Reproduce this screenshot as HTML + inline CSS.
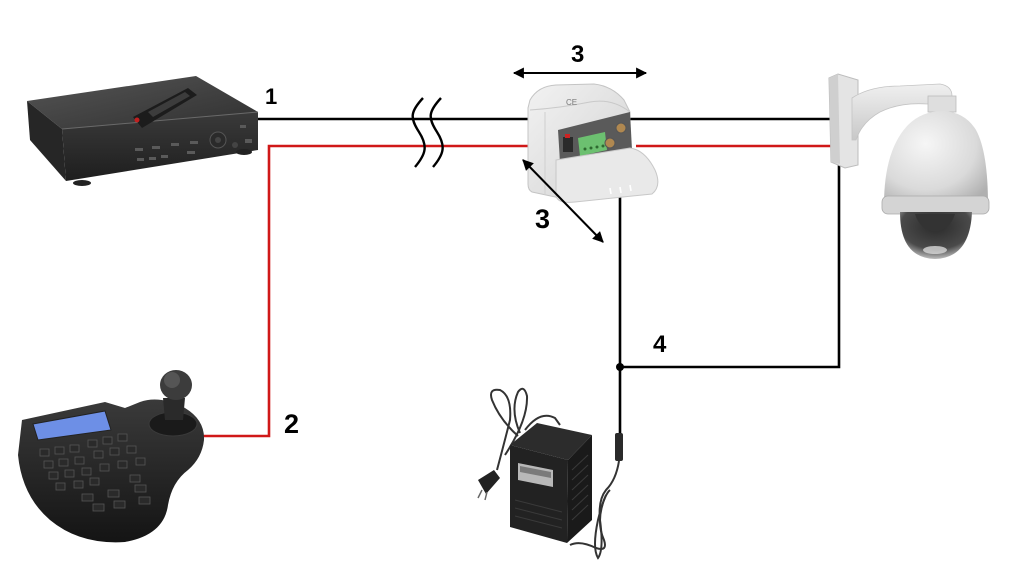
<!DOCTYPE html>
<html>
<head>
<meta charset="utf-8">
<style>
html,body{margin:0;padding:0;background:#fff;}
svg{display:block;}
text{font-family:"Liberation Sans",Arial,sans-serif;font-weight:bold;fill:#000;}
</style>
</head>
<body>
<svg width="1018" height="570" viewBox="0 0 1018 570" xmlns="http://www.w3.org/2000/svg">
<defs>
  <linearGradient id="dvrTop" x1="0" y1="0" x2="1" y2="1">
    <stop offset="0" stop-color="#555"/>
    <stop offset="1" stop-color="#303030"/>
  </linearGradient>
  <linearGradient id="dvrFront" x1="0" y1="0" x2="0" y2="1">
    <stop offset="0" stop-color="#3a3a3a"/>
    <stop offset="1" stop-color="#1e1e1e"/>
  </linearGradient>
  <radialGradient id="dome" cx="0.4" cy="0.35" r="0.75">
    <stop offset="0" stop-color="#f6f6f6"/>
    <stop offset="0.65" stop-color="#dadada"/>
    <stop offset="1" stop-color="#b0b0b0"/>
  </radialGradient>
  <radialGradient id="glass" cx="0.5" cy="0.3" r="0.7">
    <stop offset="0" stop-color="#2a2a2a"/>
    <stop offset="0.7" stop-color="#4a4a4a"/>
    <stop offset="1" stop-color="#bdbdbd"/>
  </radialGradient>
  <linearGradient id="boxG" x1="0" y1="0" x2="1" y2="1">
    <stop offset="0" stop-color="#f2f2f2"/>
    <stop offset="1" stop-color="#d2d2d2"/>
  </linearGradient>
  <linearGradient id="kb" x1="0" y1="0" x2="0" y2="1">
    <stop offset="0" stop-color="#3a3a3a"/>
    <stop offset="1" stop-color="#141414"/>
  </linearGradient>
  <linearGradient id="arm" x1="0" y1="0" x2="0" y2="1">
    <stop offset="0" stop-color="#f0f0f0"/>
    <stop offset="1" stop-color="#c8c8c8"/>
  </linearGradient>
  <marker id="ah" viewBox="0 0 10 10" refX="9" refY="5" markerWidth="6" markerHeight="5.5" orient="auto-start-reverse">
    <path d="M0,0 L10,5 L0,10 z" fill="#000"/>
  </marker>
</defs>

<!-- ============ WIRES ============ -->
<g fill="none" stroke-width="2.6">
  <line x1="258" y1="119" x2="530" y2="119" stroke="#000"/>
  <line x1="628" y1="119" x2="831" y2="119" stroke="#000"/>
  <polyline points="533,146 269,146 269,436 203,436" stroke="#d01818"/>
  <line x1="636" y1="146" x2="831" y2="146" stroke="#d01818"/>
  <line x1="620" y1="197" x2="620" y2="435" stroke="#000"/>
  <polyline points="620,367 839,367 839,160" stroke="#000"/>
</g>
<circle cx="620" cy="367" r="4" fill="#000"/>

<!-- break symbol -->
<g fill="none" stroke="#000" stroke-width="2.4">
  <path d="M423,98 C410,112 410,118 419,132 C428,146 426,154 415,167"/>
  <path d="M441,98 C428,112 428,118 437,132 C446,146 444,154 433,167"/>
</g>

<!-- ============ DVR ============ -->
<g>
  <polygon points="27,101 196,76 258,112 62,129" fill="url(#dvrTop)"/>
  <polygon points="62,129 258,112 258,150 66,181" fill="url(#dvrFront)"/>
  <polygon points="27,101 62,129 66,181 30,140" fill="#262626"/>
  <line x1="62" y1="129" x2="258" y2="112" stroke="#6a6a6a" stroke-width="1"/>
  <ellipse cx="82" cy="183" rx="9" ry="3" fill="#222"/>
  <ellipse cx="244" cy="152" rx="8" ry="3" fill="#222"/>
  <polygon points="133,117 188,88 197,95 142,128" fill="#1c1c1c"/>
  <polygon points="148,112 185,92 190,96 153,117" fill="#3c3c3c"/>
  <circle cx="137" cy="120" r="2.5" fill="#c02020"/>
  <g fill="#5a5a5a">
    <rect x="135" y="148" width="8" height="3"/><rect x="152" y="146" width="8" height="3"/>
    <rect x="171" y="143" width="8" height="3"/><rect x="190" y="141" width="8" height="3"/>
    <rect x="137" y="158" width="7" height="3"/><rect x="149" y="157" width="7" height="3"/>
    <rect x="161" y="155" width="7" height="3"/><rect x="187" y="151" width="8" height="3"/>
    <rect x="240" y="125" width="6" height="3"/><rect x="245" y="139" width="7" height="4"/>
  </g>
  <circle cx="218" cy="140" r="8" fill="#2a2a2a" stroke="#555" stroke-width="1"/>
  <circle cx="218" cy="140" r="3" fill="#444"/>
  <circle cx="235" cy="145" r="3" fill="#444"/>
</g>

<!-- ============ JUNCTION BOX ============ -->
<g>
  <path d="M528,108 L530,100 Q538,86 556,85 L594,84 Q612,86 624,100 L630,112 L630,140 L560,140 L560,198 L532,192 Q528,190 528,184 Z" fill="url(#boxG)" stroke="#c4c4c4" stroke-width="1"/>
  <path d="M530,110 Q560,108 590,102 Q612,98 630,112" fill="none" stroke="#c9c9c9" stroke-width="1"/>
  <line x1="545" y1="112" x2="545" y2="195" stroke="#cfcfcf" stroke-width="1"/>
  <text x="566" y="105" style="font-size:8px;font-weight:normal;fill:#777">CE</text>
  <polygon points="558,130 630,112 632,150 560,162" fill="#5a5a5a"/>
  <rect x="563" y="137" width="10" height="15" fill="#2a2a2a"/>
  <rect x="565" y="134" width="5" height="4" fill="#cc2222"/>
  <polygon points="578,138 605,132 607,150 580,156" fill="#6cc070"/>
  <g fill="#2e6a30">
    <circle cx="585" cy="149" r="1.5"/><circle cx="591" cy="148" r="1.5"/><circle cx="597" cy="147" r="1.5"/><circle cx="603" cy="146" r="1.5"/>
  </g>
  <circle cx="610" cy="143" r="5" fill="#b08850" stroke="#555"/>
  <circle cx="621" cy="128" r="5" fill="#b08850" stroke="#555"/>
  <path d="M556,160 L630,148 Q645,150 655,170 Q662,186 652,194 L575,202 Q558,204 556,196 Z" fill="#e9e9e9" stroke="#c8c8c8" stroke-width="1"/>
  <g stroke="#fff" stroke-width="1.6">
    <line x1="610" y1="188" x2="611" y2="194"/><line x1="620" y1="187" x2="621" y2="193"/><line x1="630" y1="185" x2="631" y2="191"/>
  </g>
</g>

<!-- dimension arrows -->
<line x1="514" y1="73" x2="646" y2="73" stroke="#000" stroke-width="2" marker-start="url(#ah)" marker-end="url(#ah)"/>
<line x1="523" y1="160" x2="603" y2="242" stroke="#000" stroke-width="2" marker-start="url(#ah)" marker-end="url(#ah)"/>

<!-- ============ CAMERA ============ -->
<g>
  <polygon points="829,78 838,74 858,80 858,165 845,168 831,162" fill="#e4e4e4" stroke="#bdbdbd" stroke-width="1"/>
  <polygon points="829,78 838,74 840,164 831,162" fill="#cfcfcf"/>
  <path d="M852,98 Q870,86 900,86 L940,84 Q952,86 952,96 L952,104 L928,104 Q900,102 880,112 Q862,122 856,140 L852,140 Z" fill="url(#arm)" stroke="#c4c4c4" stroke-width="0.8"/>
  <rect x="928" y="96" width="28" height="16" fill="#dedede" stroke="#bbb" stroke-width="0.8"/>
  <path d="M884,205 Q884,150 908,125 Q922,111 943,111 Q965,112 976,130 Q988,152 988,205 Z" fill="url(#dome)"/>
  <rect x="882" y="196" width="107" height="18" rx="6" fill="#d4d4d4" stroke="#aaa" stroke-width="0.8"/>
  <path d="M900,212 Q900,258 935,259 Q970,258 972,212 Z" fill="url(#glass)"/>
  <path d="M915,214 L955,214 Q950,230 935,232 Q920,230 915,214 Z" fill="#333"/>
  <ellipse cx="935" cy="250" rx="12" ry="4" fill="#d8d8d8" opacity="0.8"/>
</g>

<!-- ============ KEYBOARD ============ -->
<g>
  <path d="M22,420 L105,402 L125,408 L140,402 Q160,395 185,408 Q205,420 204,440 Q202,458 188,470 Q172,482 168,505 Q164,535 125,542 Q80,545 50,520 Q22,496 18,455 Z" fill="url(#kb)"/>
  <ellipse cx="173" cy="424" rx="24" ry="12" fill="#1a1a1a" stroke="#3a3a3a"/>
  <path d="M165,420 L163,398 L185,398 L183,420 Z" fill="#2a2a2a"/>
  <ellipse cx="176" cy="385" rx="16" ry="15" fill="#3c3c3c"/>
  <ellipse cx="172" cy="380" rx="8" ry="8" fill="#555"/>
  <polygon points="33,424 105,411 111,430 38,440" fill="#6d8fe6" stroke="#222" stroke-width="1"/>
  <g fill="#2a2a2a" stroke="#555" stroke-width="0.8">
    <rect x="40" y="449" width="9" height="7"/><rect x="55" y="447" width="9" height="7"/><rect x="70" y="445" width="9" height="7"/>
    <rect x="88" y="440" width="9" height="7"/><rect x="103" y="437" width="9" height="7"/><rect x="118" y="434" width="9" height="7"/>
    <rect x="44" y="461" width="9" height="7"/><rect x="59" y="459" width="9" height="7"/><rect x="75" y="457" width="9" height="7"/>
    <rect x="94" y="451" width="9" height="7"/><rect x="110" y="448" width="9" height="7"/><rect x="127" y="446" width="9" height="7"/>
    <rect x="49" y="472" width="9" height="7"/><rect x="65" y="470" width="9" height="7"/><rect x="82" y="468" width="9" height="7"/>
    <rect x="100" y="464" width="9" height="7"/><rect x="118" y="461" width="9" height="7"/><rect x="136" y="458" width="9" height="7"/>
    <rect x="56" y="483" width="9" height="7"/><rect x="74" y="481" width="9" height="7"/><rect x="90" y="478" width="9" height="7"/>
    <rect x="130" y="475" width="10" height="7"/>
    <rect x="82" y="494" width="11" height="7"/><rect x="108" y="490" width="11" height="7"/><rect x="135" y="485" width="11" height="7"/>
    <rect x="93" y="504" width="11" height="7"/><rect x="114" y="501" width="11" height="7"/><rect x="139" y="497" width="11" height="7"/>
  </g>
</g>

<!-- ============ POWER ADAPTER ============ -->
<g>
  <g fill="none" stroke="#333" stroke-width="2">
    <path d="M518,436 Q500,420 492,400 Q488,388 500,390 Q512,396 510,420 Q505,440 497,470"/>
    <path d="M520,433 Q510,410 518,392 Q524,384 527,396 Q528,420 505,455"/>
    <path d="M525,430 Q540,410 555,418 L560,425"/>
  </g>
  <polygon points="478,480 494,470 500,478 486,494" fill="#222"/>
  <line x1="482" y1="490" x2="478" y2="498" stroke="#666" stroke-width="1.5"/>
  <line x1="487" y1="492" x2="485" y2="500" stroke="#666" stroke-width="1.5"/>
  <polygon points="510,445 537,423 592,435 568,460" fill="#2c2c2c"/>
  <polygon points="568,460 592,435 592,520 567,543" fill="#1a1a1a"/>
  <polygon points="510,445 568,460 567,543 510,527" fill="#222"/>
  <g stroke="#3a3a3a" stroke-width="1">
    <line x1="572" y1="470" x2="588" y2="455"/><line x1="572" y1="480" x2="588" y2="465"/>
    <line x1="572" y1="490" x2="588" y2="475"/><line x1="572" y1="500" x2="588" y2="485"/>
    <line x1="572" y1="510" x2="588" y2="495"/><line x1="572" y1="520" x2="588" y2="505"/>
    <line x1="515" y1="500" x2="562" y2="512"/><line x1="515" y1="508" x2="562" y2="520"/>
    <line x1="515" y1="516" x2="562" y2="528"/>
  </g>
  <polygon points="518,463 553,470 553,487 518,480" fill="#b8b8b8"/>
  <polygon points="520,466 551,472 551,478 520,472" fill="#7a7a7a"/>
  <rect x="615" y="433" width="8" height="28" rx="2" fill="#2a2a2a"/>
  <g fill="none" stroke="#333" stroke-width="2">
    <path d="M619,461 Q616,480 606,490 Q598,500 600,520 Q604,550 598,558 Q592,548 598,520 Q604,495 610,490"/>
    <path d="M606,495 Q595,520 604,540 Q608,552 596,548 Q580,540 570,545"/>
  </g>
</g>

<!-- ============ LABELS ============ -->
<text x="265" y="104" style="font-size:22px">1</text>
<text x="284" y="433" style="font-size:27px">2</text>
<text x="571" y="62" style="font-size:24px">3</text>
<text x="535" y="228" style="font-size:27px">3</text>
<text x="653" y="352" style="font-size:24px">4</text>
</svg>
</body>
</html>
